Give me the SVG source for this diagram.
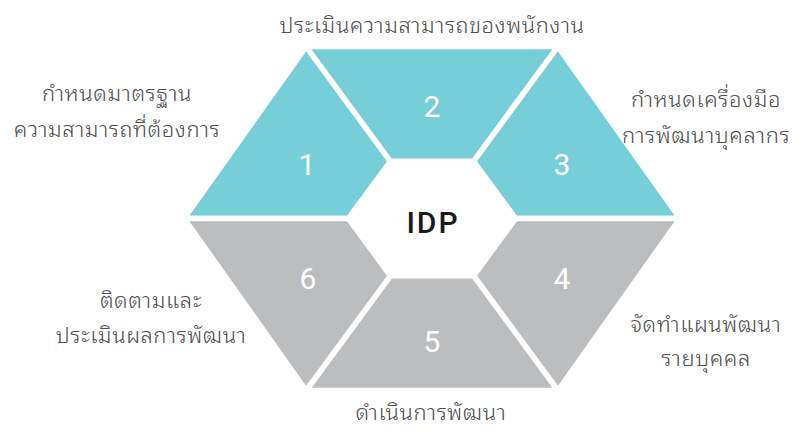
<svg xmlns="http://www.w3.org/2000/svg" width="807" height="432" viewBox="0 0 807 432">
  <style>
    .seg { stroke: #ffffff; stroke-width: 5.5; stroke-linejoin: miter; }
    .teal { fill: #76CED8; }
    .gray { fill: #BCBDBF; }
    .num { fill: #ffffff; font-family: Roboto, "DejaVu Sans", sans-serif; font-size: 30px; font-weight: 400; text-anchor: middle; dominant-baseline: central; }
    .lbl { fill: #4f4f4f; font-family: "Noto Sans Thai Looped", "Noto Sans Thai", "Noto Sans", "DejaVu Sans", sans-serif; font-size: 22px; font-weight: 300; letter-spacing: 0.6px; text-anchor: middle; }
    .title { fill: #1a1a1a; font-family: Roboto, "Liberation Sans", sans-serif; font-size: 30px; font-weight: 500; text-anchor: middle; dominant-baseline: central; letter-spacing: 2px; }
  </style>
  <rect width="807" height="432" fill="#ffffff"/>
  <g id="node-1">
    <polygon class="seg teal" points="184.1,218.5 306.1,46.6 390.4,161.3 348.4,218.5"/>
    <text class="num" x="307" y="164">1</text>
  </g>
  <g id="node-2">
    <polygon class="seg teal" points="306.1,46.6 557.9,46.6 473.6,161.3 390.4,161.3"/>
    <text class="num" x="432" y="106">2</text>
  </g>
  <g id="node-3">
    <polygon class="seg teal" points="557.9,46.6 679.9,218.5 515.6,218.5 473.6,161.3"/>
    <text class="num" x="562" y="164">3</text>
  </g>
  <g id="node-4">
    <polygon class="seg gray" points="679.9,218.5 557.9,390.5 473.6,275.8 515.6,218.5"/>
    <text class="num" x="562" y="278">4</text>
  </g>
  <g id="node-5">
    <polygon class="seg gray" points="557.9,390.5 306.1,390.5 390.4,275.8 473.6,275.8"/>
    <text class="num" x="432" y="341">5</text>
  </g>
  <g id="node-6">
    <polygon class="seg gray" points="306.1,390.5 184.1,218.5 348.4,218.5 390.4,275.8"/>
    <text class="num" x="308" y="278">6</text>
  </g>
  <g id="node-center">
    <text class="title" x="433" y="222">IDP</text>
  </g>
  <g id="labels">
    <text class="lbl" x="432" y="33">ประเมินความสามารถของพนักงาน</text>
    <text class="lbl" x="117" y="101">กำหนดมาตรฐาน</text>
    <text class="lbl" x="117" y="137">ความสามารถที่ต้องการ</text>
    <text class="lbl" x="706" y="107">กำหนดเครื่องมือ</text>
    <text class="lbl" x="706" y="143">การพัฒนาบุคลากร</text>
    <text class="lbl" x="151" y="308">ติดตามและ</text>
    <text class="lbl" x="151" y="343">ประเมินผลการพัฒนา</text>
    <text class="lbl" x="706" y="332">จัดทำแผนพัฒนา</text>
    <text class="lbl" x="706" y="366">รายบุคคล</text>
    <text class="lbl" x="431" y="420">ดำเนินการพัฒนา</text>
  </g>
  <g id="connectors"></g>
</svg>
